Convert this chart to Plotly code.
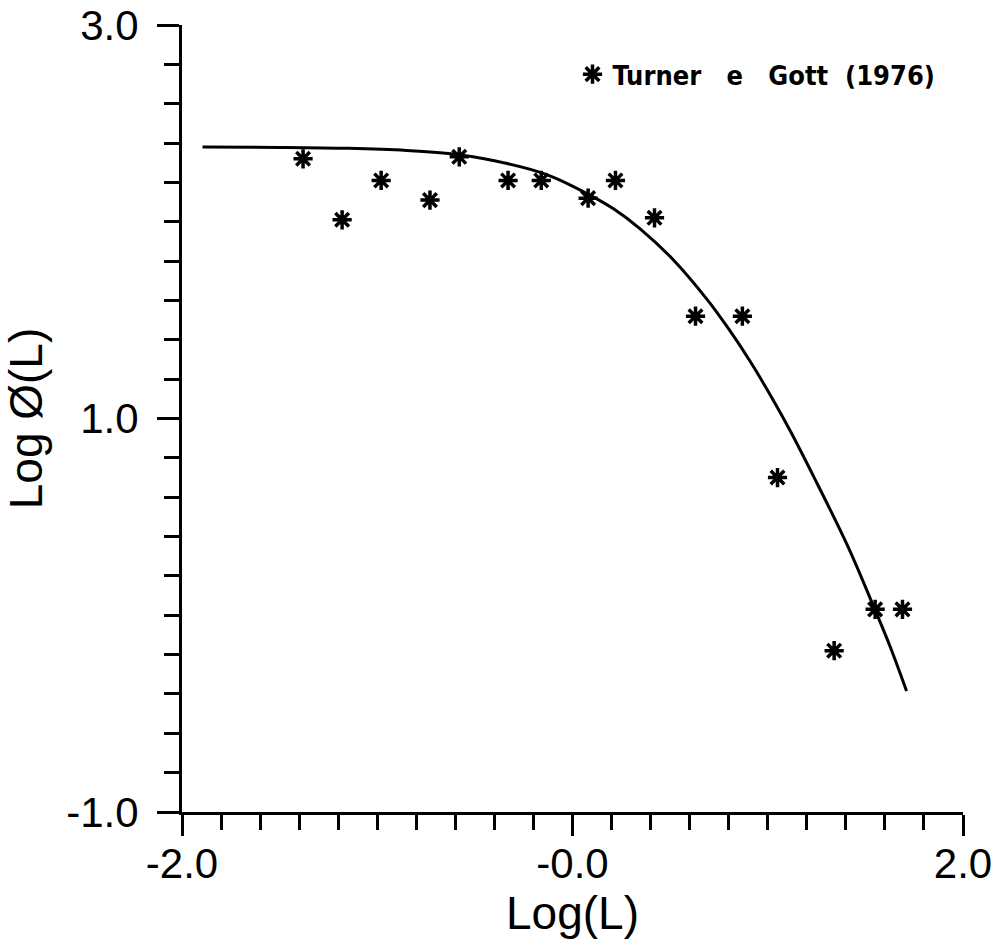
import plotly.graph_objects as go

# Observed data (Turner e Gott 1976)
obs_logL = [-1.38, -1.18, -0.98, -0.73, -0.58, -0.33, -0.16, 0.08, 0.22, 0.42,
            0.63, 0.87, 1.05, 1.34, 1.55, 1.69]
obs_logphi = [2.32, 2.01, 2.21, 2.11, 2.33, 2.21, 2.21, 2.12, 2.21, 2.02,
              1.52, 1.52, 0.70, -0.18, 0.03, 0.03]

# Fitted curve
fit_logL = [-1.895, -1.50, -1.15, -0.85, -0.59, -0.40, -0.215, -0.097, 0.077, 0.21,
            0.348, 0.517, 0.691, 0.80, 0.912, 1.029, 1.117, 1.234, 1.408, 1.542,
            1.629, 1.711]
fit_logphi = [2.380, 2.378, 2.373, 2.362, 2.342, 2.310, 2.266, 2.226, 2.142, 2.066,
              1.963, 1.806, 1.603, 1.455, 1.287, 1.092, 0.934, 0.707, 0.355, 0.045,
              -0.165, -0.385]

x_tickvals = [-2.0, 0.0, 2.0]
x_ticktext = ["-2.0", "-0.0", "2.0"]
y_tickvals = [-1.0, 1.0, 3.0]
y_ticktext = ["-1.0", "1.0", "3.0"]

legend_label = "Turner   e   Gott  (1976)"

fig = go.Figure()
fig.add_trace(go.Scatter(
    x=fit_logL, y=fit_logphi, mode="lines",
    line=dict(color="black", width=3, shape="spline", smoothing=1.0),
    showlegend=False, hoverinfo="skip"))
fig.add_trace(go.Scatter(
    x=obs_logL, y=obs_logphi, mode="markers", name=legend_label,
    marker=dict(symbol="asterisk-open", size=16, color="black",
                line=dict(color="black", width=3.5)),
    showlegend=True))

axis_font = dict(family="Liberation Sans, Arial, sans-serif", size=42, color="black")
title_font = dict(family="Liberation Sans, Arial, sans-serif", size=46, color="black")

fig.update_layout(
    width=1006, height=942,
    margin=dict(l=182, r=43, t=25, b=130),
    paper_bgcolor="white", plot_bgcolor="white",
    font=dict(family="Liberation Sans, Arial, sans-serif", color="black"),
    legend=dict(x=0.50, y=0.937, xanchor="left", yanchor="middle",
                bgcolor="rgba(0,0,0,0)", itemwidth=30,
                font=dict(family="DejaVu Sans Condensed, DejaVu Sans, sans-serif",
                          size=27, color="black", weight="bold")),
    xaxis=dict(
        range=[-2, 2], showgrid=False, zeroline=False, automargin=False,
        showline=True, linecolor="black", linewidth=3,
        tickmode="array", tickvals=x_tickvals, ticktext=x_ticktext,
        ticks="outside", ticklen=21, tickwidth=3, tickcolor="black",
        tickfont=axis_font, ticklabelstandoff=-8,
        minor=dict(tick0=-2, dtick=0.2, ticks="outside", ticklen=15,
                   tickwidth=3, tickcolor="black"),
        title=dict(text="Log(L)", font=title_font, standoff=6),
    ),
    yaxis=dict(
        range=[-1, 3], showgrid=False, zeroline=False, automargin=False,
        showline=True, linecolor="black", linewidth=3,
        tickmode="array", tickvals=y_tickvals, ticktext=y_ticktext,
        ticks="outside", ticklen=22, tickwidth=3, tickcolor="black",
        tickfont=axis_font, ticklabelstandoff=10,
        minor=dict(tick0=-1, dtick=0.2, ticks="outside", ticklen=15,
                   tickwidth=3, tickcolor="black"),
        title=dict(text="Log Ø(L)", font=title_font, standoff=26),
    ),
)

fig.write_html("out.html")
